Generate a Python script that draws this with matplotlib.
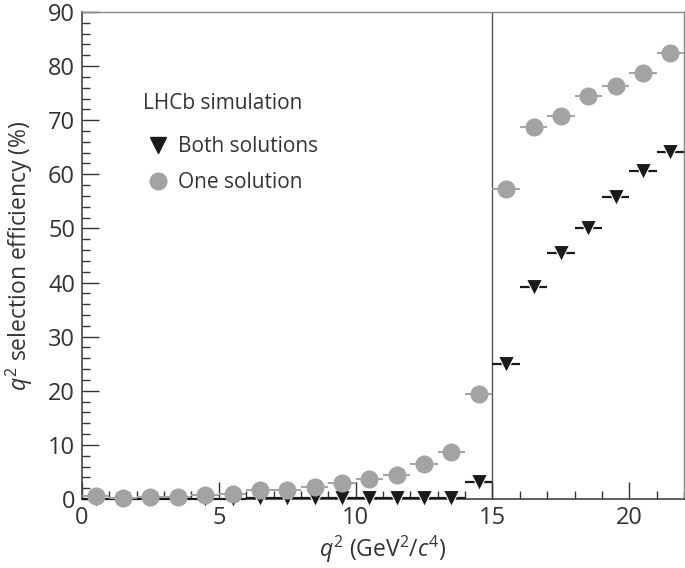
import numpy as np
import matplotlib.pyplot as plt
from matplotlib.lines import Line2D
from matplotlib.ticker import MultipleLocator

plt.rcParams['font.family'] = ['Open Sans', 'DejaVu Sans']
plt.rcParams['mathtext.fontset'] = 'custom'
plt.rcParams['mathtext.rm'] = 'Open Sans'
plt.rcParams['mathtext.it'] = 'Open Sans:italic'

# bin centres in q^2 (GeV^2/c^4), bin half-width 0.5
q2 = [0.5, 1.5, 2.5, 3.5, 4.5, 5.5, 6.5, 7.5, 8.5, 9.5, 10.5,
      11.5, 12.5, 13.5, 14.5, 15.5, 16.5, 17.5, 18.5, 19.5, 20.5, 21.5]
half_width = 0.5

one_sol = [0.5, 0.2, 0.3, 0.3, 0.8, 1.0, 1.6, 1.7, 2.2, 3.0, 3.7,
           4.5, 6.5, 8.7, 19.4, 57.3, 68.7, 70.8, 74.5, 76.3, 78.7, 82.4]
both_sol = [0.0, 0.0, 0.0, 0.0, 0.0, 0.0, 0.1, 0.1, 0.1, 0.1, 0.1,
            0.1, 0.1, 0.1, 3.1, 25.0, 39.2, 45.5, 50.1, 55.8, 60.6, 64.1]

grey = "#a3a3a3"
dark = "#333333"

fig = plt.figure(figsize=(6.85, 5.68), dpi=100)
ax = fig.add_axes([0.1197, 0.1215, 0.8789, 0.8575])

ax.axvline(15, color="#555555", lw=1.0, zorder=1)

ax.errorbar(q2, both_sol, xerr=half_width, fmt="v", color="#1a1a1a",
            ms=11, mec="white", mew=0.8, elinewidth=1.6, capsize=0,
            clip_on=False, zorder=3)
ax.errorbar(q2, one_sol, xerr=half_width, fmt="o", color=grey,
            ms=12, mec=grey, elinewidth=1.4, capsize=0,
            clip_on=False, zorder=4)

ax.set_xlim(0, 22)
ax.set_ylim(0, 90)
ax.xaxis.set_major_locator(MultipleLocator(5))
ax.xaxis.set_minor_locator(MultipleLocator(1))
ax.yaxis.set_major_locator(MultipleLocator(10))
ax.yaxis.set_minor_locator(MultipleLocator(2))
ax.tick_params(which="both", direction="in", colors=dark, labelsize=17,
               top=False, right=False)
ax.tick_params(which="major", length=12, width=1.0)
ax.tick_params(which="minor", length=6, width=1.0)
ax.tick_params(axis="x", pad=5)
ax.tick_params(axis="y", pad=5)

for s in ["left", "bottom"]:
    ax.spines[s].set_color("#444444")
    ax.spines[s].set_linewidth(1.2)
for s in ["top", "right"]:
    ax.spines[s].set_color("#888888")
    ax.spines[s].set_linewidth(1.0)

ax.set_xlabel(r"$q^2$ (GeV$^2$/$c^4$)", fontsize=16.5, color=dark, labelpad=3)
ax.set_ylabel(r"$q^2$ selection efficiency (%)", fontsize=16.5, color=dark, labelpad=9)

handles = [Line2D([], [], ls="none", marker="v", color="#1a1a1a", ms=11),
           Line2D([], [], ls="none", marker="o", color=grey, ms=12)]
leg = ax.legend(handles, ["Both solutions", "One solution"],
                loc="upper left", bbox_to_anchor=(0.101, 0.833), frameon=False,
                title="LHCb simulation", alignment="left", fontsize=15,
                title_fontsize=15, handletextpad=0.2, handlelength=1.5,
                labelspacing=0.7, borderpad=0, borderaxespad=0,
                labelcolor=dark)
leg.get_title().set_color(dark)
leg._legend_box.sep = 16

fig.savefig("out.png", dpi=100)
